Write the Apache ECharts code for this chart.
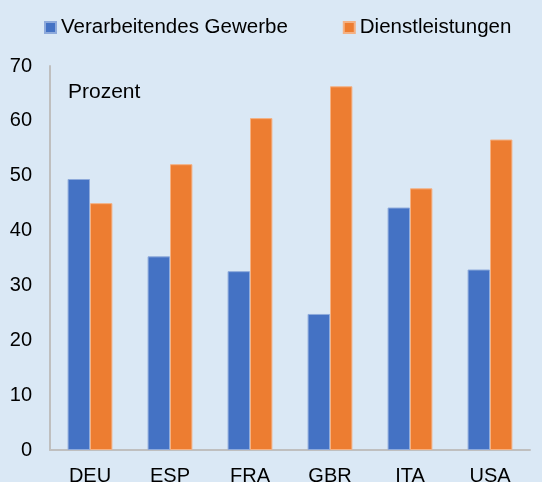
<!DOCTYPE html>
<html lang="de">
<head>
    <meta charset="UTF-8">
    <title>Verarbeitendes Gewerbe / Dienstleistungen</title>
    <script src="https://cdn.jsdelivr.net/npm/echarts@6/dist/echarts.min.js"></script>
    <style>
        html,body{margin:0;padding:0;width:542px;height:482px;overflow:hidden;background:#dae8f5;}
        #chart{width:542px;height:482px;}
    </style>
</head>
<body>
<div id="chart"></div>
<script>
    // Länder
    let laender = ['DEU', 'ESP', 'FRA', 'GBR', 'ITA', 'USA'];
    // Anteile in Prozent
    let gewerbe = [49.4, 35.3, 32.6, 24.8, 44.2, 32.9];
    let dienst = [45.0, 52.1, 60.5, 66.3, 47.7, 56.6];
    let serienNamen = ['Verarbeitendes Gewerbe', 'Dienstleistungen'];

    let myChart = echarts.init(document.getElementById('chart'));
    let option = {
        backgroundColor: '#dae8f5',
        animation: false,
        color: ['#4472c4', '#ed7d31'],
        title: {
            text: 'Prozent',
            left: 63,
            top: 77,
            textStyle: {
                fontFamily: 'Liberation Sans',
                fontSize: 21,
                fontWeight: 'normal',
                color: '#000'
            }
        },
        legend: {
            top: 12,
            left: 39,
            itemWidth: 11,
            itemHeight: 11,
            itemGap: 55,
            icon: 'rect',
            textStyle: {
                fontFamily: 'Liberation Sans',
                fontSize: 20.5,
                color: '#000'
            },
            data: serienNamen
        },
        grid: {
            left: 50,
            right: 12,
            top: 66,
            bottom: 32,
            outerBoundsMode: 'none'
        },
        xAxis: {
            type: 'category',
            data: laender,
            axisTick: {show: false},
            axisLine: {lineStyle: {color: '#bfbfbf', width: 2}},
            axisLabel: {
                color: '#000',
                fontFamily: 'Liberation Sans',
                fontSize: 20,
                margin: 16
            }
        },
        yAxis: {
            type: 'value',
            min: 0,
            max: 70,
            interval: 10,
            splitLine: {show: false},
            axisTick: {show: false},
            axisLine: {show: true, lineStyle: {color: '#bfbfbf', width: 2}},
            axisLabel: {
                color: '#000',
                fontFamily: 'Liberation Sans',
                fontSize: 20,
                margin: 18
            }
        },
        series: [
            {
                name: serienNamen[0],
                type: 'bar',
                data: gewerbe,
                barGap: '0%',
                barCategoryGap: '44%',
                itemStyle: {borderColor: '#8eaadb', borderWidth: 1}
            },
            {
                name: serienNamen[1],
                type: 'bar',
                data: dienst,
                barGap: '0%',
                barCategoryGap: '44%',
                itemStyle: {borderColor: '#f4b183', borderWidth: 1}
            }
        ]
    };
    myChart.setOption(option);
</script>
</body>
</html>
